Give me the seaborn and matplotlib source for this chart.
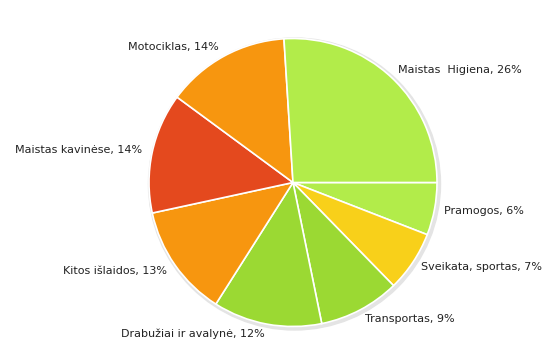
import matplotlib
matplotlib.use("Agg")
import matplotlib.pyplot as plt
from matplotlib.patches import Circle
import seaborn as sns

# slices, clockwise from 3 o'clock
categories = ["Pramogos", "Sveikata, sportas", "Transportas", "Drabužiai ir avalynė",
              "Kitos išlaidos", "Maistas kavinėse", "Motociklas", "Maistas  Higiena"]
shares = [5.9, 6.8, 9.1, 12.2, 12.6, 13.5, 13.9, 26.0]
label_pct = [6, 7, 9, 12, 13, 14, 14, 26]
colors = ["#b2ec4a", "#f8d01a", "#9bd933", "#9bd933",
          "#f7960f", "#e4491e", "#f7960f", "#b2ec4a"]

sns.set_theme(style="white")
plt.rcParams["font.family"] = ["DejaVu Sans"]

W, H = 558, 352
fig = plt.figure(figsize=(W / 100, H / 100), dpi=100)
ax = fig.add_axes([0, 0, 1, 1])

cx, cy, r = 293, H - 182.5, 144

# soft shadow
ax.add_patch(Circle((cx + 1.5, cy - 1.5), r + 2, color="#e4e4e4", zorder=0))

labels = [f"{c}, {p}%" for c, p in zip(categories, label_pct)]
wedges, texts = ax.pie(shares, labels=labels, colors=colors, startangle=0,
                       counterclock=False, center=(cx, cy), radius=r,
                       labeldistance=154 / 144,
                       wedgeprops=dict(edgecolor="white", linewidth=1.2),
                       textprops=dict(fontsize=8, color="#222222"))
for w in wedges:
    w.set_zorder(2)
# pie aligns on the sign of x, not on the side of the centre
for t in texts:
    t.set_ha("left" if t.get_position()[0] > cx else "right")

ax.set_xlim(0, W)
ax.set_ylim(0, H)
ax.set_aspect("auto")
ax.axis("off")

fig.savefig("out.png", dpi=100, facecolor="white")
